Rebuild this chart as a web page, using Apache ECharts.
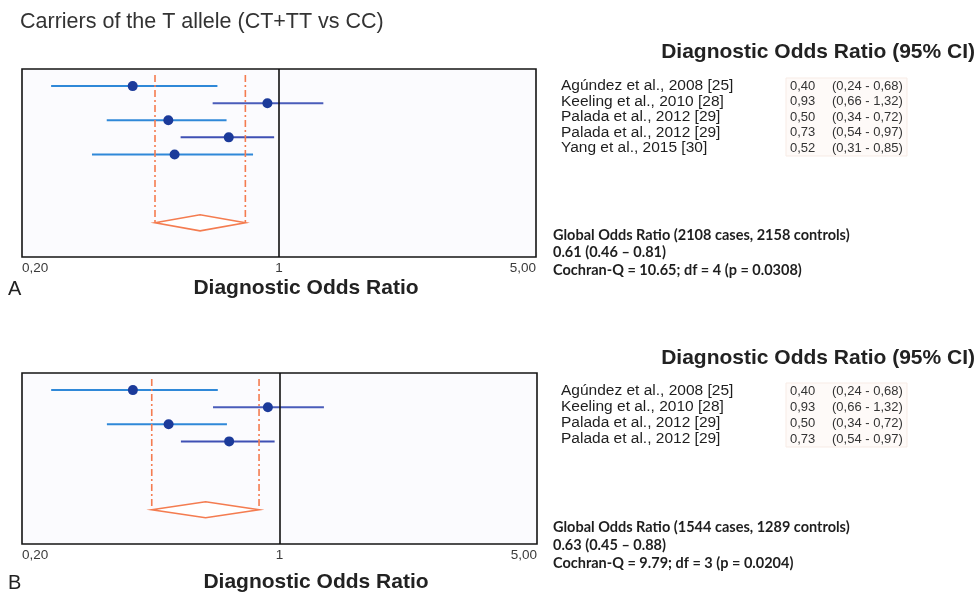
<!DOCTYPE html>
<html><head><meta charset="utf-8">
<script src="https://cdn.jsdelivr.net/npm/echarts@6/dist/echarts.min.js"></script>
<style>html,body{margin:0;padding:0;background:#fff}#c{width:978px;height:592px}</style>
</head><body><div id="c"></div>
<script>
// ---------- DATA ----------
const chartTitle = 'Carriers of the T allele (CT+TT vs CC)';
const tableTitle = 'Diagnostic Odds Ratio (95% CI)';
const axisTitle = 'Diagnostic Odds Ratio';
const tickValues = [0.2, 1, 5];
const tickLabels = ['0,20', '1', '5,00'];

const studiesA = ['Agúndez et al., 2008 [25]', 'Keeling et al., 2010 [28]', 'Palada et al., 2012 [29]', 'Palada et al., 2012 [29]', 'Yang et al., 2015 [30]'];
const orA   = [0.40, 0.93, 0.50, 0.73, 0.52];
const lowA  = [0.24, 0.66, 0.34, 0.54, 0.31];
const highA = [0.68, 1.32, 0.72, 0.97, 0.85];
const globalA = [0.61, 0.46, 0.81];           // estimate, low, high
const summaryA = ['Global Odds Ratio (2108 cases, 2158 controls)', 'Cochran-Q = 10.65; df = 4 (p = 0.0308)'];

const studiesB = ['Agúndez et al., 2008 [25]', 'Keeling et al., 2010 [28]', 'Palada et al., 2012 [29]', 'Palada et al., 2012 [29]'];
const orB   = [0.40, 0.93, 0.50, 0.73];
const lowB  = [0.24, 0.66, 0.34, 0.54];
const highB = [0.68, 1.32, 0.72, 0.97];
const globalB = [0.63, 0.45, 0.88];
const summaryB = ['Global Odds Ratio (1544 cases, 1289 controls)', 'Cochran-Q = 9.79; df = 3 (p = 0.0204)'];

// ---------- STYLE ----------
const ciColors = ['#2f88d8', '#4a5cba', '#2f88d8', '#3f50b4', '#2f88d8'];
const pointColor = '#1b3a9a';
const orange = '#f47c50';
const SANS = '"Liberation Sans", Arial, sans-serif';
const CAL = 'Lato, "Liberation Sans", sans-serif';

const fmt = v => v.toFixed(2).replace('.', ',');

const panels = [
  {studies: studiesA, or: orA, low: lowA, high: highA, glob: globalA, summary: summaryA,
   grid: {left: 22, top: 69, width: 514, height: 188}},
  {studies: studiesB, or: orB, low: lowB, high: highB, glob: globalB, summary: summaryB,
   grid: {left: 22, top: 373, width: 515, height: 171}}
];

const grids = [], xAxes = [], yAxes = [], series = [];
panels.forEach((p, i) => {
  const n = p.studies.length;
  const yDiamond = n + 4;
  grids.push(Object.assign({show: true, borderColor: '#151515', borderWidth: 1.6, backgroundColor: '#fbfbfe'}, p.grid));
  xAxes.push({
    type: 'log', logBase: 10, min: 0.2, max: 5, gridIndex: i,
    axisLine: {show: false}, axisTick: {show: false}, splitLine: {show: false},
    axisLabel: {
      customValues: tickValues, margin: 4, fontSize: 13.5, fontFamily: SANS, color: '#3a3a3a',
      alignMinLabel: 'left', alignMaxLabel: 'right',
      formatter: v => { const k = tickValues.findIndex(t => Math.abs(t - v) < 1e-6); return k >= 0 ? tickLabels[k] : ''; }
    }
  });
  yAxes.push({type: 'value', min: 0, max: n + 6, inverse: true, gridIndex: i, show: false});

  // CI lines
  series.push({
    type: 'custom', xAxisIndex: i, yAxisIndex: i, silent: true,
    data: p.low.map((l, k) => [l, p.high[k], k + 1]),
    encode: {x: [0, 1], y: 2},
    renderItem: (params, api) => {
      const a = api.coord([api.value(0), api.value(2)]);
      const b = api.coord([api.value(1), api.value(2)]);
      return {type: 'line', shape: {x1: a[0], y1: a[1], x2: b[0], y2: b[1]},
              style: {stroke: ciColors[params.dataIndex], lineWidth: 2}};
    }
  });
  // dashed global CI bounds
  series.push({
    type: 'custom', xAxisIndex: i, yAxisIndex: i, silent: true,
    data: [[p.glob[1], yDiamond], [p.glob[2], yDiamond]],
    encode: {x: 0, y: 1},
    renderItem: (params, api) => {
      const b = api.coord([api.value(0), api.value(1)]);
      const t = api.coord([api.value(0), 0]);
      return {type: 'line', shape: {x1: b[0], y1: t[1] + 6, x2: b[0], y2: b[1]},
              style: {stroke: orange, lineWidth: 1.6, lineDash: [7, 3, 2, 3]}};
    }
  });
  // diamond
  series.push({
    type: 'custom', xAxisIndex: i, yAxisIndex: i, silent: true,
    data: [[p.glob[0], p.glob[1], p.glob[2], yDiamond]],
    encode: {x: [0, 1, 2], y: 3},
    renderItem: (params, api) => {
      const y = api.value(3);
      const l = api.coord([api.value(1), y]);
      const c = api.coord([api.value(0), y]);
      const r = api.coord([api.value(2), y]);
      const h = 8;
      return {type: 'polygon', shape: {points: [l, [c[0], c[1] - h], r, [c[0], c[1] + h]]},
              style: {fill: '#ffffff', stroke: orange, lineWidth: 1.6}};
    }
  });
  // points + line of no effect
  series.push({
    type: 'scatter', xAxisIndex: i, yAxisIndex: i, silent: true,
    symbol: 'circle', symbolSize: 10, itemStyle: {color: pointColor, opacity: 1},
    data: p.or.map((v, k) => [v, k + 1]),
    markLine: {silent: true, symbol: 'none', label: {show: false},
      lineStyle: {color: '#111', width: 1.6, type: 'solid'},
      data: [{xAxis: 1}]}
  });
});

// ---------- TEXT ----------
const graphic = [];
const txt = (x, y, text, font, opts) => graphic.push(Object.assign({
  type: 'text', x: x, y: y, silent: true,
  style: Object.assign({text: text, font: font, fill: '#222', textVerticalAlign: 'middle', textAlign: 'left'}, opts || {})
}));

txt(20, 22, chartTitle, '21.5px ' + SANS, {fill: '#333'});

const layout = [
  {tableY: 52, rowY0: 86, rowStep: 15.5, sumY: [235, 252.5, 270], axisX: 306, axisY: 288, letter: 'A', letterY: 289},
  {tableY: 358, rowY0: 391, rowStep: 16, sumY: [527, 545, 563], axisX: 316, axisY: 582, letter: 'B', letterY: 583}
];

panels.forEach((p, i) => {
  const L = layout[i];
  txt(975, L.tableY, tableTitle, 'bold 21px ' + SANS, {textAlign: 'right', fill: '#222'});
  graphic.push({type: 'rect', silent: true, shape: {x: 786, y: L.rowY0 - 8, width: 121, height: (p.studies.length - 1) * L.rowStep + 16},
    style: {fill: '#fefaf8', stroke: '#f7ebe5', lineWidth: 1}});
  p.studies.forEach((s, k) => {
    const y = L.rowY0 + k * L.rowStep;
    txt(561, y, s, '15.5px ' + SANS, {fill: '#1e1e1e'});
    txt(790, y, fmt(p.or[k]), '13px ' + SANS, {fill: '#333'});
    txt(832, y, '(' + fmt(p.low[k]) + ' - ' + fmt(p.high[k]) + ')', '13px ' + SANS, {fill: '#333'});
  });
  const sumLines = [p.summary[0], p.glob[0].toFixed(2) + ' (' + p.glob[1].toFixed(2) + ' \u2013 ' + p.glob[2].toFixed(2) + ')', p.summary[1]];
  sumLines.forEach((s, k) => txt(553, L.sumY[k], s, 'bold 14.5px ' + CAL, {fill: '#1e1e1e'}));
  txt(L.axisX, L.axisY, axisTitle, 'bold 21px ' + SANS, {textAlign: 'center', fill: '#222'});
  txt(8, L.letterY, L.letter, '20px ' + SANS, {fill: '#222'});
});

const chart = echarts.init(document.getElementById('c'), null, {renderer: 'canvas'});
chart.setOption({
  animation: false,
  backgroundColor: '#ffffff',
  grid: grids, xAxis: xAxes, yAxis: yAxes, series: series, graphic: graphic
});
</script></body></html>
